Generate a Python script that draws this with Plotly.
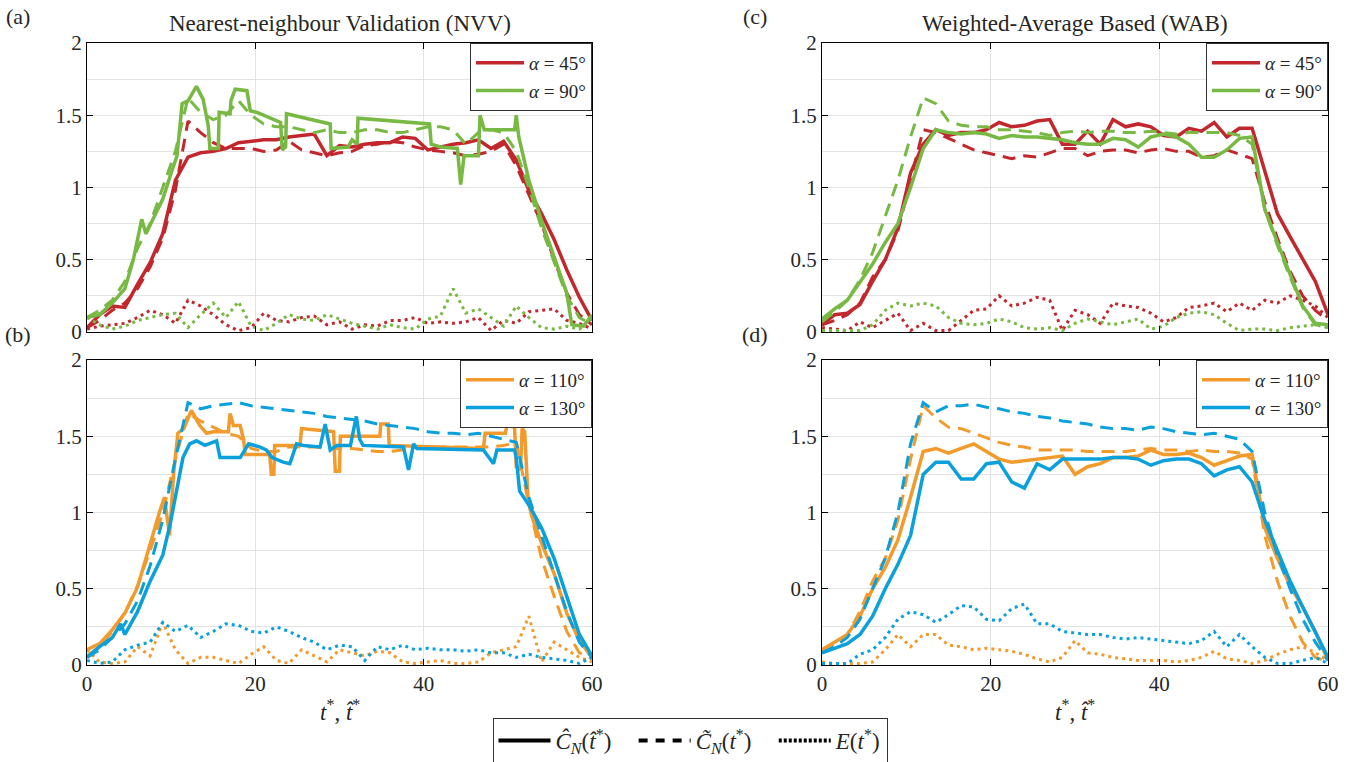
import plotly.graph_objects as go

# ---------------- data ----------------
T_STAR = [0, 1.5, 3, 4.5, 6, 7.5, 9, 10.5, 12, 13.5, 15, 16.5, 18, 19.5, 21, 22.5, 24, 25.5, 27, 28.5,
          30, 31.5, 33, 34.5, 36, 37.5, 39, 40.5, 42, 43.5, 45, 46.5, 48, 49.5, 51, 52.5, 54, 55.5, 57, 58.5, 60]

# (a) NVV, alpha = 45 / 90
NVV_45_HAT = [0.03,0.12,0.18,0.17,0.33,0.48,0.68,1.05,1.21,1.24,1.25,1.27,1.31,1.32,1.33,1.33,1.35,1.36,1.37,1.22,
              1.29,1.28,1.30,1.31,1.31,1.35,1.34,1.26,1.28,1.3,1.31,1.33,1.27,1.32,1.19,0.98,0.82,0.64,0.43,0.24,0.08]
NVV_45_TILDE = [0.03,0.08,0.15,0.2,0.3,0.45,0.65,0.98,1.46,1.38,1.31,1.27,1.27,1.27,1.25,1.26,1.32,1.26,1.24,1.22,
                1.24,1.25,1.29,1.30,1.32,1.31,1.28,1.26,1.25,1.24,1.22,1.23,1.25,1.30,1.15,0.95,0.75,0.5,0.27,0.12,0.05]
NVV_45_E = [0.02,0.04,0.05,0.06,0.1,0.15,0.12,0.06,0.22,0.18,0.12,0.05,0.01,0.03,0.13,0.08,0.07,0.1,0.11,0.05,
            0.07,0.02,0.05,0.04,0.08,0.08,0.1,0.06,0.07,0.06,0.07,0.1,0.01,0.08,0.06,0.14,0.15,0.16,0.08,0.06,0.02]
T_NVV_90_HAT = [0, 1.5, 3, 4.5, 5.5, 6.5, 7, 8, 9, 10, 10.7, 11.3, 12, 13, 13.8, 14.4, 14.6, 15.6, 15.7, 17.0,
                17.1, 17.6, 19.0, 19.4, 20.2, 23.0, 23.2, 23.6, 23.7, 28.9, 29.0, 31.0, 31.5, 32.1, 32.2, 40.7,
                40.9, 42, 44.0, 44.4, 44.8, 46.5, 46.7, 47.2, 50.8, 51.0, 51.3, 52.5, 54, 55.5, 57, 57.6, 59, 60]
NVV_90_HAT = [0.1, 0.12, 0.2, 0.3, 0.5, 0.78, 0.68, 0.8, 0.92, 1.1, 1.22, 1.58, 1.6, 1.7, 1.61, 1.43, 1.27, 1.27, 1.52, 1.51,
              1.6, 1.68, 1.67, 1.53, 1.52, 1.45, 1.26, 1.28, 1.51, 1.44, 1.27, 1.28, 1.33, 1.3, 1.48, 1.44,
              1.3, 1.28, 1.27, 1.02, 1.22, 1.22, 1.5, 1.4, 1.4, 1.5, 1.35, 1.05, 0.77, 0.52, 0.27, 0.05, 0.04, 0.12]
NVV_90_TILDE = [0.1,0.15,0.22,0.35,0.58,0.75,1.0,1.25,1.62,1.52,1.47,1.5,1.6,1.5,1.44,1.42,1.42,1.4,1.38,1.4,
                1.38,1.38,1.4,1.4,1.38,1.38,1.4,1.42,1.42,1.4,1.3,1.38,1.4,1.38,1.25,1.0,0.72,0.48,0.25,0.1,0.05]
NVV_90_E = [0.1,0.05,0.02,0.04,0.08,0.1,0.12,0.13,0.03,0.12,0.2,0.1,0.21,0.04,0.01,0.06,0.12,0.09,0.08,0.12,
            0.09,0.06,0.04,0.02,0.05,0.03,0.02,0.09,0.11,0.3,0.13,0.16,0.1,0.04,0.18,0.1,0.03,0.02,0.04,0.02,0.1]

# (b) NVV, alpha = 110 / 130
T_NVV_110_HAT = [0, 1.5, 3, 4.5, 6, 7.5, 8.6, 9.2, 9.5, 9.8, 10.3, 10.8, 11.5, 12.4, 13.4, 14.2, 15, 16.8, 17.0, 17.4,
                 18.2, 18.6, 18.8, 21.7, 21.9, 22.2, 22.3, 25.3, 25.5, 29.3, 29.5, 30.0, 30.1, 34.8, 34.9, 35.8,
                 35.9, 47.1, 47.3, 49.7, 49.9, 50.8, 51.0, 51.5, 51.7, 52.0, 52.4, 53, 54, 55.5, 57, 58.5, 60]
NVV_110_HAT = [0.1, 0.14, 0.23, 0.34, 0.51, 0.8, 1.0, 1.1, 0.95, 0.85, 1.26, 1.52, 1.55, 1.67, 1.57, 1.52, 1.53, 1.53, 1.65, 1.57,
               1.57, 1.48, 1.38, 1.38, 1.25, 1.25, 1.44, 1.44, 1.55, 1.53, 1.27, 1.27, 1.5, 1.5, 1.58, 1.58,
               1.44, 1.42, 1.52, 1.52, 1.57, 1.56, 1.3, 1.28, 1.55, 1.53, 1.1, 0.95, 0.8, 0.6, 0.34, 0.16, 0.05]
NVV_110_TILDE = [0.06,0.12,0.22,0.34,0.52,0.75,1.0,1.35,1.65,1.6,1.56,1.52,1.5,1.42,1.4,1.4,1.43,1.43,1.43,1.42,
                 1.42,1.42,1.41,1.4,1.4,1.41,1.43,1.43,1.43,1.43,1.43,1.43,1.43,1.44,1.46,1.05,0.7,0.45,0.22,0.08,0.04]
NVV_110_E = [0.1,0.02,0.01,0.02,0.12,0.06,0.28,0.1,0.01,0.05,0.05,0.03,0.01,0.07,0.12,0.03,0.01,0.1,0.06,0.02,
             0.1,0.08,0.06,0.09,0.08,0.02,0.01,0.02,0.03,0.01,0.01,0.02,0.08,0.1,0.12,0.32,0.02,0.15,0.1,0.05,0.02]
T_NVV_130_HAT = [0, 1.5, 3, 4, 4.5, 6, 7.5, 9, 9.9, 10.5, 11.4, 12.2, 13, 14, 15.4, 15.8, 18.2, 19.2, 20.5, 21.3,
                 22, 23.3, 24.1, 24.9, 25.7, 27.7, 28.3, 28.9, 29.7, 31.3, 32.0, 32.4, 32.8, 37.6, 38.2, 38.8,
                 39.2, 47.1, 48.3, 48.7, 50.8, 51.0, 51.4, 52.6, 53.2, 54, 55.5, 57, 58.5, 60]
NVV_130_HAT = [0.05, 0.12, 0.18, 0.27, 0.2, 0.35, 0.55, 0.72, 0.93, 1.1, 1.36, 1.45, 1.47, 1.44, 1.47, 1.36, 1.36, 1.45, 1.43, 1.41,
               1.36, 1.33, 1.32, 1.45, 1.44, 1.43, 1.58, 1.41, 1.44, 1.44, 1.63, 1.48, 1.44, 1.43, 1.28, 1.45,
               1.42, 1.41, 1.32, 1.41, 1.41, 1.36, 1.14, 1.04, 0.98, 0.9, 0.7, 0.45, 0.2, 0.06]
NVV_130_TILDE = [0.05,0.1,0.18,0.27,0.42,0.65,0.95,1.35,1.72,1.68,1.7,1.71,1.72,1.7,1.69,1.68,1.67,1.66,1.65,1.63,
                 1.62,1.61,1.6,1.58,1.57,1.56,1.55,1.53,1.52,1.52,1.51,1.52,1.5,1.48,1.46,1.1,0.85,0.6,0.35,0.15,0.05]
NVV_130_E = [0.03,0.01,0.02,0.1,0.13,0.15,0.28,0.22,0.26,0.18,0.22,0.27,0.26,0.22,0.21,0.25,0.22,0.18,0.15,0.1,
             0.13,0.12,0.03,0.12,0.1,0.13,0.1,0.11,0.1,0.1,0.09,0.1,0.08,0.08,0.05,0.07,0.05,0.04,0.03,0.01,0.05]

# (c) WAB, alpha = 45 / 90
WAB_45_HAT = [0.05,0.12,0.13,0.19,0.35,0.5,0.72,1.1,1.3,1.4,1.36,1.38,1.38,1.4,1.45,1.42,1.43,1.46,1.47,1.3,
              1.3,1.39,1.3,1.47,1.42,1.44,1.42,1.36,1.35,1.41,1.39,1.45,1.35,1.41,1.41,1.12,0.82,0.66,0.5,0.35,0.12]
WAB_45_TILDE = [0.05,0.08,0.12,0.2,0.38,0.5,0.7,1.05,1.4,1.38,1.34,1.3,1.26,1.24,1.22,1.2,1.22,1.21,1.24,1.27,
                1.27,1.22,1.25,1.26,1.26,1.24,1.26,1.27,1.25,1.25,1.21,1.22,1.26,1.23,1.2,0.9,0.65,0.42,0.25,0.15,0.08]
WAB_45_E = [0.03,0.02,0.01,0.07,0.03,0.08,0.13,0.01,0.06,0.01,0.01,0.08,0.15,0.16,0.25,0.18,0.2,0.24,0.22,0.01,
            0.15,0.12,0.06,0.2,0.18,0.17,0.13,0.07,0.1,0.17,0.18,0.2,0.14,0.2,0.15,0.22,0.2,0.25,0.22,0.18,0.1]
WAB_90_HAT = [0.09,0.16,0.22,0.35,0.47,0.62,0.75,1.0,1.27,1.4,1.38,1.37,1.38,1.37,1.34,1.36,1.35,1.35,1.34,1.33,
              1.31,1.3,1.3,1.34,1.33,1.28,1.35,1.37,1.35,1.3,1.21,1.21,1.26,1.34,1.35,0.85,0.62,0.4,0.18,0.06,0.05]
WAB_90_TILDE = [0.07,0.14,0.22,0.36,0.55,0.8,1.05,1.35,1.62,1.58,1.46,1.43,1.42,1.42,1.4,1.4,1.39,1.38,1.36,1.38,
                1.39,1.38,1.39,1.39,1.38,1.38,1.39,1.38,1.37,1.38,1.38,1.38,1.38,1.36,1.3,0.85,0.6,0.38,0.17,0.05,0.03]
WAB_90_E = [0.01,0.01,0.01,0.01,0.05,0.15,0.2,0.18,0.2,0.18,0.1,0.06,0.05,0.06,0.09,0.07,0.03,0.02,0.03,0.01,
            0.06,0.09,0.07,0.05,0.07,0.09,0.02,0.04,0.1,0.13,0.14,0.12,0.06,0.01,0.02,0.02,0.01,0.03,0.04,0.05,0.03]

# (d) WAB, alpha = 110 / 130
WAB_110_HAT = [0.1,0.15,0.2,0.32,0.5,0.64,0.82,1.1,1.4,1.42,1.39,1.42,1.45,1.4,1.35,1.33,1.34,1.35,1.36,1.37,
               1.25,1.3,1.32,1.36,1.36,1.37,1.41,1.38,1.38,1.39,1.36,1.31,1.34,1.37,1.38,0.9,0.7,0.52,0.38,0.22,0.03]
WAB_110_TILDE = [0.1,0.14,0.2,0.35,0.55,0.7,0.95,1.35,1.7,1.62,1.56,1.55,1.52,1.49,1.46,1.44,1.43,1.41,1.41,1.41,
                 1.41,1.4,1.4,1.4,1.4,1.41,1.42,1.41,1.41,1.4,1.41,1.4,1.4,1.39,1.35,0.85,0.55,0.32,0.15,0.05,0.02]
WAB_110_E = [0.02,0.01,0.01,0.01,0.02,0.1,0.2,0.12,0.2,0.2,0.13,0.12,0.1,0.11,0.1,0.09,0.07,0.04,0.02,0.05,
             0.16,0.08,0.07,0.05,0.04,0.03,0.03,0.03,0.02,0.03,0.05,0.09,0.04,0.03,0.01,0.03,0.07,0.1,0.12,0.08,0.03]
WAB_130_HAT = [0.08,0.11,0.14,0.2,0.32,0.5,0.66,0.85,1.25,1.33,1.33,1.22,1.22,1.32,1.33,1.2,1.16,1.32,1.28,1.35,
               1.35,1.35,1.35,1.36,1.36,1.35,1.31,1.34,1.35,1.35,1.32,1.24,1.28,1.3,1.2,0.95,0.75,0.55,0.38,0.22,0.05]
WAB_130_TILDE = [0.08,0.12,0.18,0.3,0.5,0.7,1.0,1.45,1.72,1.66,1.7,1.7,1.71,1.69,1.68,1.66,1.65,1.63,1.62,1.6,
                 1.59,1.58,1.56,1.55,1.55,1.54,1.56,1.55,1.53,1.52,1.51,1.52,1.5,1.48,1.4,1.0,0.72,0.5,0.3,0.15,0.03]
WAB_130_E = [0.01,0.01,0.01,0.07,0.1,0.18,0.3,0.35,0.33,0.28,0.33,0.39,0.38,0.3,0.29,0.37,0.4,0.27,0.27,0.22,
             0.21,0.2,0.2,0.18,0.17,0.18,0.17,0.16,0.15,0.14,0.16,0.22,0.12,0.2,0.12,0.05,0.01,0.01,0.03,0.05,0.01]

PANEL_LABELS = ["(a)", "(b)", "(c)", "(d)"]
TITLES = ["Nearest-neighbour Validation (NVV)", "Weighted-Average Based (WAB)"]
X_TICKS = [0, 20, 40, 60]
Y_TICKS = [0, 0.5, 1, 1.5, 2]
Y_TICK_TEXT = ["0", "0.5", "1", "1.5", "2"]

# ---------------- style ----------------
RED = "#C1272D"
GREEN = "#77B943"
ORANGE = "#F39A2C"
BLUE = "#0AA0DC"
FONT = "Liberation Serif, DejaVu Serif, serif"
TXT = "#262626"
W, H = 1372, 762

X_LEFT = [87 / W, 592 / W]
X_RIGHT = [822 / W, 1328 / W]
Y_TOP = [1 - 332 / H, 1 - 43 / H]
Y_BOT = [1 - 665 / H, 1 - 360 / H]

fig = go.Figure()

panels = [
    ("x", "y", "legend", [(RED, "45", T_STAR, NVV_45_HAT, NVV_45_TILDE, NVV_45_E),
                          (GREEN, "90", T_NVV_90_HAT, NVV_90_HAT, NVV_90_TILDE, NVV_90_E)]),
    ("x2", "y2", "legend2", [(ORANGE, "110", T_NVV_110_HAT, NVV_110_HAT, NVV_110_TILDE, NVV_110_E),
                             (BLUE, "130", T_NVV_130_HAT, NVV_130_HAT, NVV_130_TILDE, NVV_130_E)]),
    ("x3", "y3", "legend3", [(RED, "45", T_STAR, WAB_45_HAT, WAB_45_TILDE, WAB_45_E),
                             (GREEN, "90", T_STAR, WAB_90_HAT, WAB_90_TILDE, WAB_90_E)]),
    ("x4", "y4", "legend4", [(ORANGE, "110", T_STAR, WAB_110_HAT, WAB_110_TILDE, WAB_110_E),
                             (BLUE, "130", T_STAR, WAB_130_HAT, WAB_130_TILDE, WAB_130_E)]),
]

LW = 3
DOT = "3px,4px"
DASH = "13px,8px"
for xa, ya, lg, series in panels:
    for color, ang, t_hat, hat, tilde, err in series:
        fig.add_trace(go.Scatter(x=T_STAR, y=err, mode="lines", xaxis=xa, yaxis=ya,
                                 line=dict(color=color, width=LW, dash=DOT), showlegend=False))
        fig.add_trace(go.Scatter(x=T_STAR, y=tilde, mode="lines", xaxis=xa, yaxis=ya,
                                 line=dict(color=color, width=LW, dash=DASH), showlegend=False))
        fig.add_trace(go.Scatter(x=t_hat, y=hat, mode="lines", xaxis=xa, yaxis=ya,
                                 line=dict(color=color, width=3.5), legend=lg,
                                 name=f"<i>α</i> = {ang}°", showlegend=True))

# global style legend (black samples)
style_names = ["<i>Ĉ</i><sub><i>N</i></sub>(<i>t̂</i><sup>*</sup>)   ",
               "<i>C̃</i><sub><i>N</i></sub>(<i>t</i><sup>*</sup>)   ",
               "<i>E</i>(<i>t</i><sup>*</sup>)"]
style_dash = ["solid", "9px,8px", "3px,2px"]
for nm, ds in zip(style_names, style_dash):
    fig.add_trace(go.Scatter(x=[-10], y=[-10], mode="lines", xaxis="x", yaxis="y",
                             line=dict(color="black", width=4, dash=ds), name=nm,
                             legend="legend5", showlegend=True))

axis_common = dict(showline=True, linecolor="black", linewidth=1.3, mirror="ticks",
                   ticks="inside", ticklen=6, tickwidth=1.3, tickcolor="black",
                   showgrid=True, gridcolor="#e3e3e3", gridwidth=1, zeroline=False,
                   automargin=False,
                   tickfont=dict(family=FONT, size=21, color=TXT))

def xax(domain, anchor, labels):
    d = dict(axis_common)
    d.update(domain=domain, anchor=anchor, range=[0, 60], tickvals=X_TICKS,
             showticklabels=labels)
    return d

def yax(domain, anchor):
    d = dict(axis_common)
    d.update(domain=domain, anchor=anchor, range=[0, 2], tickvals=Y_TICKS, ticktext=Y_TICK_TEXT,
             minor=dict(dtick=0.25, showgrid=True, gridcolor="#e3e3e3", ticks=""))
    return d

def panel_legend(xr, yt):
    return dict(x=xr, y=yt, xanchor="right", yanchor="top", xref="paper", yref="paper",
                bgcolor="white", bordercolor="#333", borderwidth=1,
                font=dict(family=FONT, size=19, color=TXT), tracegroupgap=0,
                itemwidth=48)

fig.update_layout(
    width=W, height=H, margin=dict(l=0, r=0, t=0, b=0, autoexpand=False),
    plot_bgcolor="white", paper_bgcolor="white",
    font=dict(family=FONT, color=TXT),
    xaxis=xax(X_LEFT, "y", False), yaxis=yax(Y_TOP, "x"),
    xaxis2=xax(X_LEFT, "y2", True), yaxis2=yax(Y_BOT, "x2"),
    xaxis3=xax(X_RIGHT, "y3", False), yaxis3=yax(Y_TOP, "x3"),
    xaxis4=xax(X_RIGHT, "y4", True), yaxis4=yax(Y_BOT, "x4"),
    legend=panel_legend(X_LEFT[1], Y_TOP[1]),
    legend2=panel_legend(X_LEFT[1], Y_BOT[1]),
    legend3=panel_legend(X_RIGHT[1], Y_TOP[1]),
    legend4=panel_legend(X_RIGHT[1], Y_BOT[1]),
    legend5=dict(x=690 / W, y=1 - 718 / H, xanchor="center", yanchor="top",
                 orientation="h", bgcolor="white", bordercolor="#333", borderwidth=1,
                 font=dict(family=FONT, size=23, color=TXT), itemwidth=52),
    showlegend=True,
)

ann = []
lbl_pos = [(18 / W, 1 - 16 / H), (18 / W, 1 - 335 / H), (755 / W, 1 - 16 / H), (755 / W, 1 - 335 / H)]
for lbl, (lx, ly) in zip(PANEL_LABELS, lbl_pos):
    ann.append(dict(text=lbl, x=lx, y=ly, xref="paper", yref="paper", showarrow=False,
                    xanchor="center", yanchor="middle",
                    font=dict(family=FONT, size=22, color=TXT)))
for ttl, xs in zip(TITLES, [X_LEFT, X_RIGHT]):
    ann.append(dict(text=ttl, x=(xs[0] + xs[1]) / 2, y=1 - 24 / H, xref="paper", yref="paper",
                    xanchor="center", yanchor="middle",
                    showarrow=False, font=dict(family=FONT, size=23, color=TXT)))
    ann.append(dict(text="<i>t</i><sup>*</sup>, <i>t̂</i><sup>*</sup>", x=(xs[0] + xs[1]) / 2,
                    y=1 - 710 / H, xref="paper", yref="paper", showarrow=False,
                    xanchor="center", yanchor="middle",
                    font=dict(family=FONT, size=23, color=TXT)))
fig.update_layout(annotations=ann)

fig.write_html("out.html", config={"displayModeBar": False},
               post_script="document.body.style.margin='0';document.body.style.overflow='hidden';")
